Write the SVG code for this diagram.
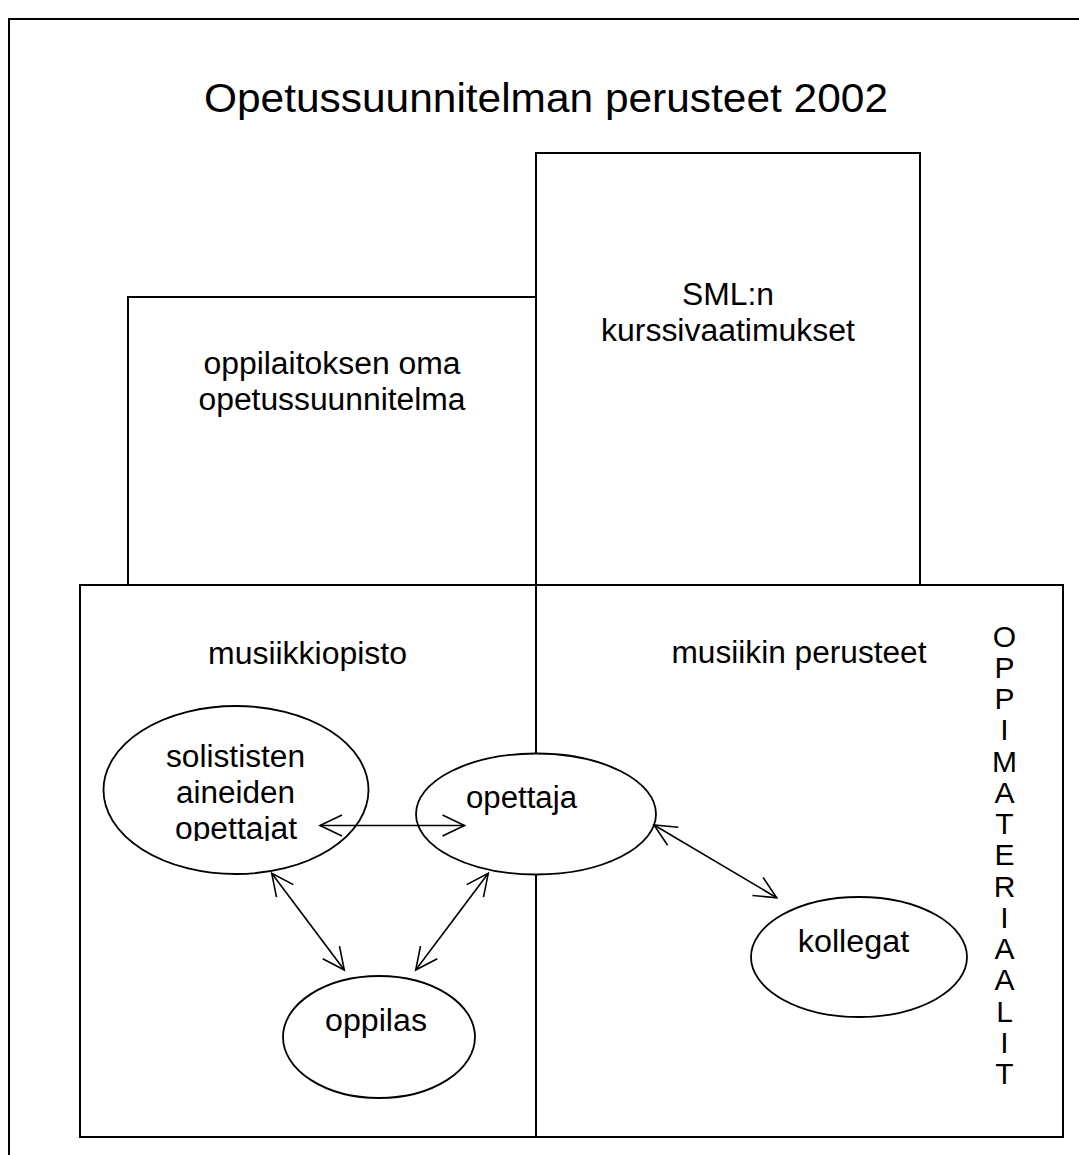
<svg xmlns="http://www.w3.org/2000/svg" width="1079" height="1155" viewBox="0 0 1079 1155">
<style>
.frame{fill:none;stroke:#000;stroke-width:2}
.box{fill:#fff;stroke:#000;stroke-width:2}
.ell{fill:#fff;stroke:#000;stroke-width:1.8}
.conn{fill:none;stroke:#000;stroke-width:1.6}
text{font-family:"Liberation Sans",Arial,sans-serif;fill:#000}
.t{font-size:31px;text-anchor:middle}
.title{font-size:40px;text-anchor:middle}
.v{font-size:30px;text-anchor:middle}
</style>
<defs>
<marker id="arr" markerUnits="userSpaceOnUse" markerWidth="30" markerHeight="30" viewBox="-26 -15 30 30" refX="0" refY="0" orient="auto-start-reverse">
<path d="M-22,-10.5 L0,0 L-22,10.5" fill="none" stroke="#000" stroke-width="1.6"/>
</marker>
<clipPath id="clipSol"><rect x="90" y="700" width="300" height="141"/></clipPath>
</defs>
<rect width="1079" height="1155" fill="#fff"/>
<path class="frame" d="M9,1160 V19 H1085"/>
<g id="title"><text class="title" x="546" y="112" textLength="684" lengthAdjust="spacingAndGlyphs">Opetussuunnitelman perusteet 2002</text></g>
<g id="oppilaitos">
<rect class="box" x="128" y="297" width="408" height="288"/>
<text class="t" x="332" y="374" textLength="257" lengthAdjust="spacingAndGlyphs">oppilaitoksen oma</text>
<text class="t" x="332" y="410" textLength="267" lengthAdjust="spacingAndGlyphs">opetussuunnitelma</text>
</g>
<g id="sml">
<rect class="box" x="536" y="153" width="384" height="432"/>
<text class="t" x="728" y="305" textLength="92" lengthAdjust="spacingAndGlyphs">SML:n</text>
<text class="t" x="728" y="341" textLength="254" lengthAdjust="spacingAndGlyphs">kurssivaatimukset</text>
</g>
<g id="lower">
<rect class="box" x="80" y="585" width="983" height="552"/>
<line class="frame" x1="536" y1="585" x2="536" y2="1137"/>
</g>
<g id="musiikkiopisto"><text class="t" x="307.5" y="664" textLength="199" lengthAdjust="spacingAndGlyphs">musiikkiopisto</text></g>
<g id="perusteet"><text class="t" x="799" y="663" textLength="255" lengthAdjust="spacingAndGlyphs">musiikin perusteet</text></g>
<g id="oppimateriaalit">
<text class="v"><tspan x="1004.5" y="646.5">O</tspan><tspan x="1004.5" y="677.75">P</tspan><tspan x="1004.5" y="709">P</tspan><tspan x="1004.5" y="740.25">I</tspan><tspan x="1004.5" y="771.5">M</tspan><tspan x="1004.5" y="802.75">A</tspan><tspan x="1004.5" y="834">T</tspan><tspan x="1004.5" y="865.25">E</tspan><tspan x="1004.5" y="896.5">R</tspan><tspan x="1004.5" y="927.75">I</tspan><tspan x="1004.5" y="959">A</tspan><tspan x="1004.5" y="990.25">A</tspan><tspan x="1004.5" y="1021.5">L</tspan><tspan x="1004.5" y="1052.75">I</tspan><tspan x="1004.5" y="1084">T</tspan></text>
</g>
<g id="solistit">
<ellipse class="ell" cx="236" cy="790" rx="132.5" ry="84"/>
<g clip-path="url(#clipSol)">
<text class="t" x="235.5" y="767" textLength="139" lengthAdjust="spacingAndGlyphs">solististen</text>
<text class="t" x="235.5" y="803" textLength="119" lengthAdjust="spacingAndGlyphs">aineiden</text>
<text class="t" x="236" y="839" textLength="122" lengthAdjust="spacingAndGlyphs">opettajat</text>
</g>
</g>
<g id="opettaja">
<ellipse class="ell" cx="536" cy="814" rx="120" ry="60.5"/>
<text class="t" x="521.5" y="808" textLength="111" lengthAdjust="spacingAndGlyphs">opettaja</text>
</g>
<g id="oppilas">
<ellipse class="ell" cx="379" cy="1037" rx="96" ry="61"/>
<text class="t" x="376" y="1031" textLength="102" lengthAdjust="spacingAndGlyphs">oppilas</text>
</g>
<g id="kollegat">
<ellipse class="ell" cx="859" cy="957" rx="108" ry="60"/>
<text class="t" x="853.5" y="952" textLength="111.5" lengthAdjust="spacingAndGlyphs">kollegat</text>
</g>
<g id="connectors">
<line class="conn" x1="320" y1="825.5" x2="464.5" y2="825.5" marker-start="url(#arr)" marker-end="url(#arr)"/>
<line class="conn" x1="271.7" y1="873.3" x2="344.3" y2="970" marker-start="url(#arr)" marker-end="url(#arr)"/>
<line class="conn" x1="488.3" y1="873.3" x2="415.7" y2="970" marker-start="url(#arr)" marker-end="url(#arr)"/>
<line class="conn" x1="654" y1="825" x2="776.7" y2="897.7" marker-start="url(#arr)" marker-end="url(#arr)"/>
</g>
</svg>
